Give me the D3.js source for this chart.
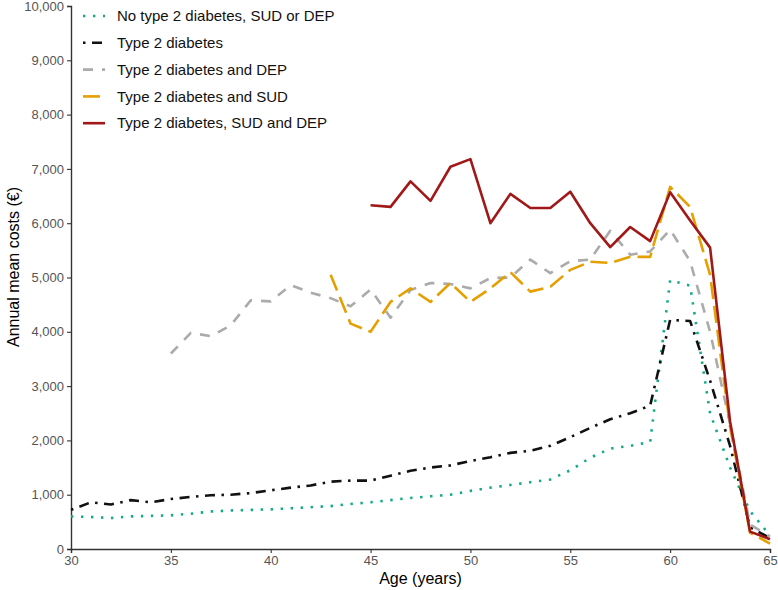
<!DOCTYPE html>
<html>
<head>
<meta charset="utf-8">
<script src="https://cdn.jsdelivr.net/npm/d3@7"></script>
<style>
  body { margin: 0; background: #fff; }
  svg { display: block; font-family: "Liberation Sans", Arial, sans-serif; }
</style>
</head>
<body>
<div id="mainDiv"></div>
<script>
'use strict';

// ages on the x axis
var ages = [30,31,32,33,34,35,36,37,38,39,40,41,42,43,44,45,46,47,48,49,50,
            51,52,53,54,55,56,57,58,59,60,61,62,63,64,65];

// annual mean costs, one array per group (first age given separately)
var noT2Start = 30;
var noT2 = [600,590,570,600,610,620,650,690,710,720,730,750,770,790,830,860,
            900,940,970,1000,1070,1130,1180,1230,1280,1450,1680,1850,1900,1970,
            4950,4850,2500,1500,700,250];

var t2Start = 30;
var t2 = [720,860,820,900,860,920,960,990,1000,1030,1080,1130,1170,1240,1260,1260,
          1350,1440,1500,1540,1620,1690,1770,1810,1900,2060,2230,2390,2500,2640,
          4220,4200,3100,1900,400,200];

var depStart = 35;
var dep = [3600,3980,3920,4120,4580,4560,4860,4720,4620,4470,4780,4260,4770,4900,
           4880,4800,4990,5000,5330,5080,5300,5330,5860,5420,5480,5880,5300,4000,
           2300,450,230];

var sudStart = 43;
var sud = [5050,4150,4000,4550,4800,4550,4900,4550,4800,5100,4740,4830,5140,5290,
           5270,5380,5380,6670,6300,5050,2250,300,100];

var sudDepStart = 45;
var sudDep = [6330,6300,6770,6410,7040,7180,6000,6540,6280,6280,6580,6000,5560,
              5930,5670,6570,6050,5550,2350,320,180];

var legendNames = ['No type 2 diabetes, SUD or DEP', 'Type 2 diabetes',
                   'Type 2 diabetes and DEP', 'Type 2 diabetes and SUD',
                   'Type 2 diabetes, SUD and DEP'];

var xTicks = [30,35,40,45,50,55,60,65];
var yTicks = [0,1000,2000,3000,4000,5000,6000,7000,8000,9000,10000];

var chart = {};

chart.w = 778;
chart.h = 590;
chart.margins = {top: 6, bottom: 41, left: 71, right: 8};

chart.series = [
    {name: legendNames[0], start: noT2Start,   values: noT2,   color: '#14a98a', dash: '2.4 7.6', width: 2.6},
    {name: legendNames[1], start: t2Start,     values: t2,     color: '#111111', dash: '2.5 6.5 10 6.5', width: 2.6},
    {name: legendNames[2], start: depStart,    values: dep,    color: '#ababab', dash: '10 9', width: 2.6},
    {name: legendNames[3], start: sudStart,    values: sud,    color: '#e69f00', dash: '17 7', width: 2.6},
    {name: legendNames[4], start: sudDepStart, values: sudDep, color: '#a01818', dash: null, width: 2.6}
];

chart.run = function()
{
    var m = chart.margins;
    var iw = chart.w - m.left - m.right;
    var ih = chart.h - m.top - m.bottom;

    var svg = d3.select('#mainDiv').append('svg')
        .attr('width', chart.w)
        .attr('height', chart.h);

    var x = d3.scaleLinear().domain([d3.min(ages), d3.max(ages)]).range([m.left, m.left + iw]);
    var y = d3.scaleLinear().domain([0, 10000]).range([m.top + ih, m.top]);

    //eixos
    var xAxis = svg.append('g')
        .attr('transform', 'translate(0,' + (m.top + ih) + ')')
        .call(d3.axisBottom(x).tickValues(xTicks).tickSize(4).tickPadding(3).tickFormat(d3.format('d')));
    var yAxis = svg.append('g')
        .attr('transform', 'translate(' + m.left + ',0)')
        .call(d3.axisLeft(y).tickValues(yTicks).tickSize(4).tickPadding(3).tickFormat(d3.format(',')));

    [xAxis, yAxis].forEach(function(a) {
        a.select('.domain').attr('stroke', '#333').attr('stroke-width', 1.4);
        a.selectAll('.tick line').attr('stroke', '#333').attr('stroke-width', 1.1);
        a.selectAll('.tick text').attr('fill', '#555').style('font-size', '13px');
    });

    //linhas
    var line = d3.line()
        .x(function(d) { return x(d.age); })
        .y(function(d) { return y(d.v); });

    chart.series.forEach(function(s) {
        var pts = s.values.map(function(v, i) { return {age: s.start + i, v: v}; });
        svg.append('path')
            .datum(pts)
            .attr('d', line)
            .attr('fill', 'none')
            .attr('stroke', s.color)
            .attr('stroke-width', s.width)
            .attr('stroke-linejoin', 'round')
            .attr('stroke-dasharray', s.dash);
    });

    //legenda
    var leg = svg.append('g').attr('transform', 'translate(83,16)');
    chart.series.forEach(function(s, i) {
        var row = leg.append('g').attr('transform', 'translate(0,' + (i * 26.8) + ')');
        row.append('line')
            .attr('x1', 0).attr('x2', 22).attr('y1', 0).attr('y2', 0)
            .attr('stroke', s.color)
            .attr('stroke-width', s.width)
            .attr('stroke-dasharray', s.dash);
        row.append('text')
            .attr('x', 34)
            .attr('y', 0)
            .attr('dy', '0.35em')
            .style('font-size', '15px')
            .attr('fill', '#111')
            .text(s.name);
    });

    //rótulos dos eixos
    svg.append('text')
        .attr('x', m.left + iw / 2)
        .attr('y', 584)
        .attr('text-anchor', 'middle')
        .style('font-size', '16px')
        .attr('fill', '#000')
        .text('Age (years)');

    svg.append('text')
        .attr('transform', 'translate(19,267) rotate(-90)')
        .attr('text-anchor', 'middle')
        .style('font-size', '16px')
        .attr('fill', '#000')
        .text('Annual mean costs (€)');
};

window.onload = chart.run;
</script>
</body>
</html>
